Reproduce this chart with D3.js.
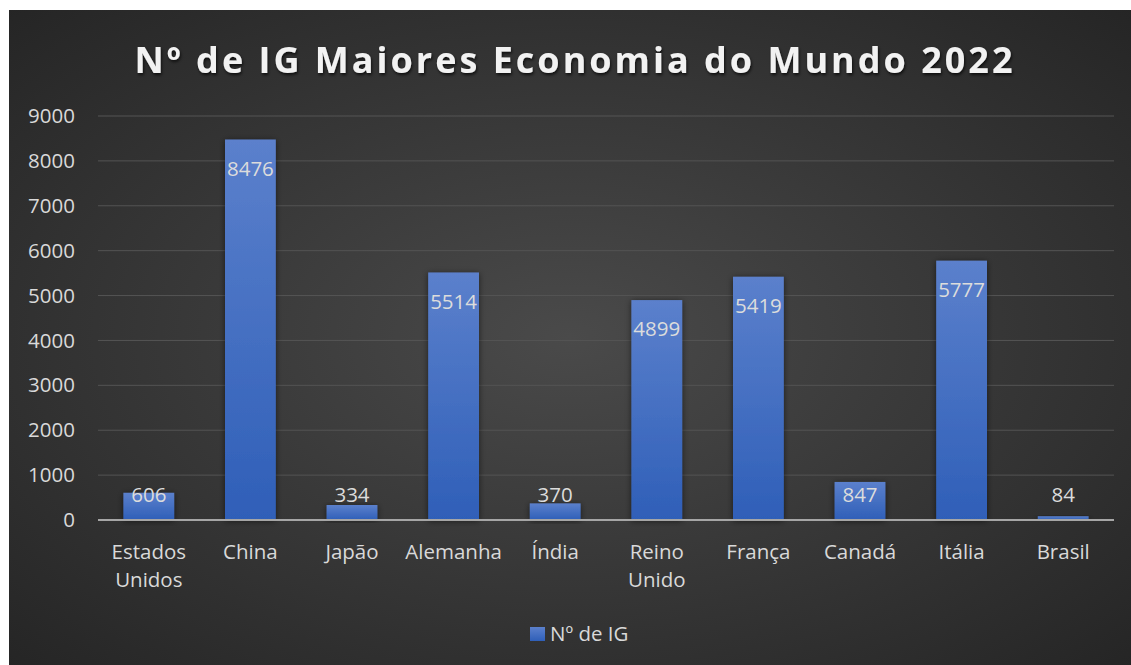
<html lang="pt">
<head>
<meta charset="UTF-8">
<title>Nº de IG</title>
<script src="https://cdn.jsdelivr.net/npm/d3@7"></script>
<style>
  body { margin: 0; background: #ffffff; }
  text { font-family: "Open Sans", "Noto Sans", sans-serif; }
</style>
</head>
<body>
<div id="chart"></div>
<script>
// data
const countries = ["Estados Unidos", "China", "Japão", "Alemanha", "Índia", "Reino Unido", "França", "Canadá", "Itália", "Brasil"];
const igCounts = [606, 8476, 334, 5514, 370, 4899, 5419, 847, 5777, 84];
const yTicks = [0, 1000, 2000, 3000, 4000, 5000, 6000, 7000, 8000, 9000];
const seriesName = "Nº de IG";
const chartTitle = "Nº de IG Maiores Economia do Mundo 2022";

const W = 1131, H = 665;
const box = { x: 9, y: 10, w: 1122, h: 655 };
const plot = { left: 98, right: 1114, top: 116, bottom: 520 };
const fs = 20.5;

const svg = d3.select("#chart").append("svg")
  .attr("width", W).attr("height", H);

const defs = svg.append("defs");
const bg = defs.append("radialGradient").attr("id", "bg")
  .attr("cx", "50%").attr("cy", "50%").attr("r", "75%");
bg.append("stop").attr("offset", "0%").attr("stop-color", "#4a4a4a");
bg.append("stop").attr("offset", "100%").attr("stop-color", "#232323");

const barGrad = defs.append("linearGradient").attr("id", "barGrad")
  .attr("x1", 0).attr("y1", 0).attr("x2", 0).attr("y2", 1);
barGrad.append("stop").attr("offset", "0%").attr("stop-color", "#5b80cc");
barGrad.append("stop").attr("offset", "100%").attr("stop-color", "#2f5fb8");

const shadow = defs.append("filter").attr("id", "shadow")
  .attr("x", "-20%").attr("y", "-20%").attr("width", "140%").attr("height", "140%");
shadow.append("feDropShadow").attr("dx", 0).attr("dy", 1).attr("stdDeviation", 3)
  .attr("flood-color", "#000").attr("flood-opacity", 0.55);

const tshadow = defs.append("filter").attr("id", "tshadow");
tshadow.append("feDropShadow").attr("dx", 1).attr("dy", 2).attr("stdDeviation", 1.5)
  .attr("flood-color", "#000").attr("flood-opacity", 0.7);

svg.append("rect")
  .attr("x", box.x).attr("y", box.y).attr("width", box.w).attr("height", box.h)
  .attr("fill", "url(#bg)");

// title
svg.append("text")
  .attr("x", 575).attr("y", 73)
  .attr("text-anchor", "middle")
  .attr("font-size", 36).attr("font-weight", 700)
  .attr("letter-spacing", 3)
  .attr("fill", "#f2f2f2")
  .attr("filter", "url(#tshadow)")
  .text(chartTitle);

const x = d3.scaleBand().domain(countries)
  .range([plot.left, plot.right]).paddingInner(0.5).paddingOuter(0.25);
const y = d3.scaleLinear().domain([0, 9000]).range([plot.bottom, plot.top]);

// gridlines
svg.append("g").selectAll("line").data(yTicks.filter(d => d > 0)).join("line")
  .attr("x1", plot.left).attr("x2", plot.right)
  .attr("y1", d => y(d)).attr("y2", d => y(d))
  .attr("stroke", "#545454").attr("stroke-width", 1);

// y axis labels
const yAxis = svg.append("g")
  .attr("transform", `translate(${plot.left},0)`)
  .call(d3.axisLeft(y).tickValues(yTicks).tickSize(0).tickPadding(23).tickFormat(d3.format("d")));
yAxis.select(".domain").remove();
yAxis.selectAll("text").attr("font-size", fs).attr("fill", "#d9d9d9")
  .style("font-family", "'Open Sans', sans-serif");

// bars
svg.append("g").selectAll("rect").data(countries).join("rect")
  .attr("x", d => x(d))
  .attr("y", (d, i) => y(igCounts[i]))
  .attr("width", x.bandwidth())
  .attr("height", (d, i) => y(0) - y(igCounts[i]))
  .attr("fill", "url(#barGrad)")
  .attr("filter", "url(#shadow)");

// baseline
svg.append("line")
  .attr("x1", plot.left).attr("x2", plot.right)
  .attr("y1", y(0)).attr("y2", y(0))
  .attr("stroke", "#a6a6a6").attr("stroke-width", 2);

// value labels
svg.append("g").selectAll("text").data(countries).join("text")
  .attr("x", d => x(d) + x.bandwidth() / 2)
  .attr("y", (d, i) => Math.min(y(igCounts[i]) + 29, y(0) - 25))
  .attr("dy", "0.35em")
  .attr("text-anchor", "middle")
  .attr("font-size", fs)
  .attr("fill", "#dcdcdc")
  .text((d, i) => igCounts[i]);

// x axis labels
const xl = svg.append("g").selectAll("text").data(countries).join("text")
  .attr("x", d => x(d) + x.bandwidth() / 2)
  .attr("y", 559)
  .attr("text-anchor", "middle")
  .attr("font-size", fs)
  .attr("fill", "#d9d9d9");
xl.each(function (d) {
  const words = d.split(" ");
  const t = d3.select(this);
  words.forEach((w, k) => {
    t.append("tspan").attr("x", x(d) + x.bandwidth() / 2)
      .attr("dy", k === 0 ? 0 : 28).text(w);
  });
});

// legend
const lg = svg.append("g");
lg.append("rect").attr("x", 530).attr("y", 627).attr("width", 15).attr("height", 14)
  .attr("fill", "url(#barGrad)");
lg.append("text").attr("x", 550).attr("y", 641)
  .attr("font-size", fs).attr("fill", "#d9d9d9").text(seriesName);
</script>
</body>
</html>
